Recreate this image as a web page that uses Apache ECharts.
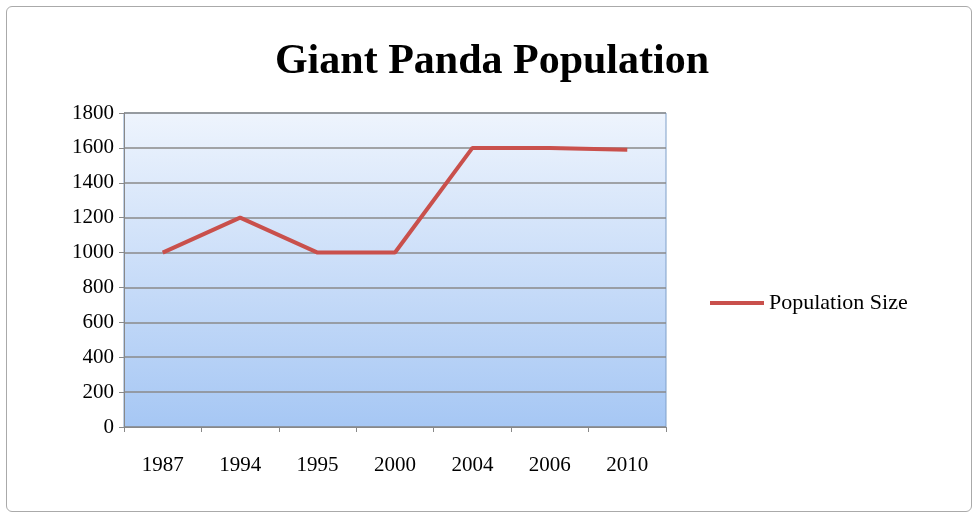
<!DOCTYPE html>
<html>
<head>
<meta charset="utf-8">
<script src="https://cdn.jsdelivr.net/npm/echarts@6/dist/echarts.min.js"></script>
<style>
html,body{margin:0;padding:0;background:#fff;}
#frame{position:absolute;left:6px;top:6px;width:964px;height:504px;border:1px solid #aaa;border-radius:6px;}
#chart{position:absolute;left:0;top:0;width:980px;height:520px;}
</style>
</head>
<body>
<div id="frame"></div>
<div id="chart"></div>
<script>
// 大熊猫数量
var years = ['1987', '1994', '1995', '2000', '2004', '2006', '2010'];
var populationSize = [1000, 1200, 1000, 1000, 1600, 1600, 1590];

var chart = echarts.init(document.getElementById('chart'));
var serif = '"Liberation Serif", "DejaVu Serif", serif';
var option = {
    title: {
        text: 'Giant Panda Population',
        left: 487,
        top: 36,
        textAlign: 'center',
        textStyle: {fontFamily: serif, fontWeight: 'bold', fontSize: 42, color: '#000'}
    },
    legend: {
        left: 705,
        top: 287,
        data: ['Population Size'],
        itemWidth: 54,
        itemHeight: 4,
        itemGap: 4,
        icon: 'rect',
        textStyle: {fontFamily: serif, fontSize: 22, color: '#000'}
    },
    grid: {
        left: 124, right: 314, top: 113, bottom: 93,
        show: true,
        borderColor: '#7f9fc8',
        borderWidth: 1,
        backgroundColor: new echarts.graphic.LinearGradient(0, 0, 0, 1, [
            {offset: 0, color: '#eef4fd'},
            {offset: 1, color: '#a6c7f4'}
        ])
    },
    xAxis: {
        type: 'category',
        data: years,
        boundaryGap: true,
        axisLine: {lineStyle: {color: '#888'}},
        axisTick: {show: true, length: 5, lineStyle: {color: '#888'}},
        axisLabel: {fontFamily: serif, fontSize: 21, color: '#000', margin: 28}
    },
    yAxis: {
        type: 'value',
        min: 0, max: 1800, interval: 200,
        axisLine: {show: true, lineStyle: {color: '#888'}},
        axisTick: {show: true, length: 5, lineStyle: {color: '#888'}},
        axisLabel: {fontFamily: serif, fontSize: 21, color: '#000', margin: 10,
            formatter: function (v) { return String(v); }},
        splitLine: {lineStyle: {color: '#8a8a8a', width: 1.5}}
    },
    series: [{
        name: 'Population Size',
        type: 'line',
        data: populationSize,
        symbol: 'none',
        lineStyle: {color: '#c9504c', width: 4},
        itemStyle: {color: '#c9504c'}
    }]
};
chart.setOption(option);
window.addEventListener('resize', function () {
    chart.resize();
});
</script>
</body>
</html>
